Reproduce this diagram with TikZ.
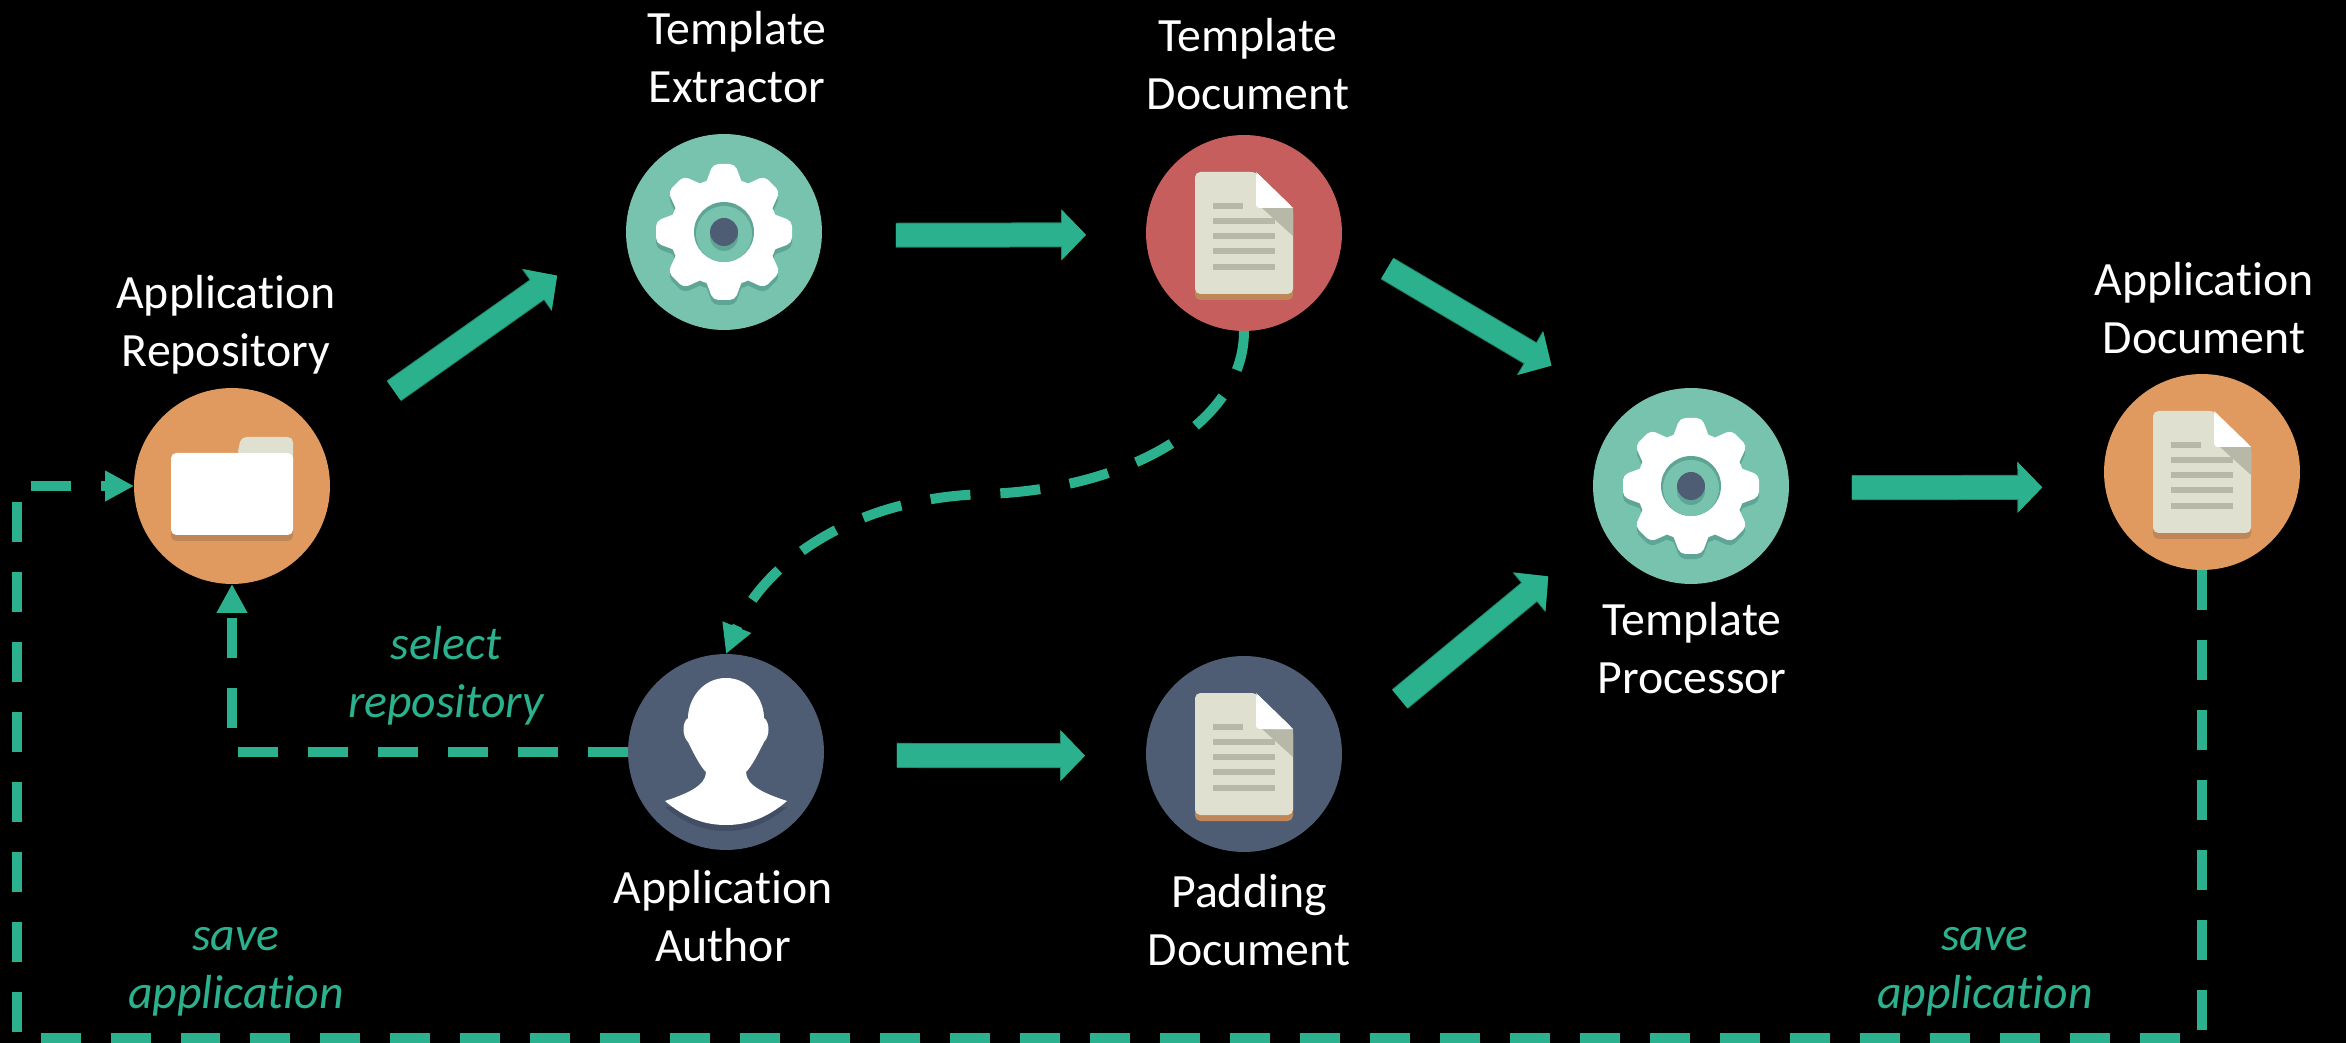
\documentclass[tikz,border=0pt]{standalone}
\usepackage{fontspec}
\setmainfont[Ligatures=NoCommon]{Carlito}
\usetikzlibrary{arrows.meta}
\definecolor{flowgreen}{HTML}{2BB18D}
\definecolor{flowdark}{HTML}{1F8A6E}
\definecolor{huborange}{HTML}{E09A60}
\definecolor{hubgreen}{HTML}{78C3AE}
\definecolor{hubred}{HTML}{C75E5E}
\definecolor{hubnavy}{HTML}{4E5D74}
\definecolor{gearshade}{HTML}{5FA595}
\definecolor{papercream}{HTML}{DFE0CF}
\definecolor{paperline}{HTML}{B8B8A8}
\definecolor{papershade}{HTML}{BF8658}
\definecolor{navyshade}{HTML}{414E63}
\tikzset{
  hub/.style={circle, minimum size=3.92cm, inner sep=0pt, outer sep=0pt},
  hubtext/.style={text=white, align=center, font=\fontsize{27.2}{33}\selectfont},
  flowtext/.style={text=flowgreen, align=center, font=\fontsize{27.2}{33}\selectfont\itshape},
  blockflow/.style={flowgreen, line width=.46cm, -{Triangle[length=.48cm,width=.96cm]},
    preaction={draw=flowdark, line width=.5cm, -{Triangle[length=.5cm,width=1cm]}}},
  dashflow/.style={flowgreen, line width=.2cm, dash pattern=on .8cm off .6cm,
    -{Triangle[length=.58cm,width=.58cm]}},
  gearicon/.pic={
    \begin{scope}[shift={(0,5)}]
      \fill[gearshade] (0,0) circle (54);
      \foreach \a in {0,45,...,315}
        \fill[gearshade, rotate=\a, rounded corners=3pt] (44,-20) -- (68,-11) -- (68,11) -- (44,20) -- cycle;
    \end{scope}
    \fill[white] (0,0) circle (54);
    \foreach \a in {0,45,...,315}
      \fill[white, rotate=\a, rounded corners=3pt] (44,-20) -- (68,-11) -- (68,11) -- (44,20) -- cycle;
    \fill[gearshade] (0,0) circle (30);
    \fill[hubgreen] (0,2) circle (28);
    \fill[gearshade] (0,5) circle (14);
    \fill[hubnavy] (0,0) circle (14);
  },
  docicon/.pic={
    \fill[papershade, rounded corners=3pt] (-49,0) rectangle (49,67);
    \fill[papercream, rounded corners=3pt] (-49,61) -- (-49,-61) -- (12,-61) -- (49,-25) -- (49,61) -- cycle;
    \fill[paperline] (18,-25) -- (49,-25) -- (49,3) -- cycle;
    \fill[white, rounded corners=2pt] (12,-61) -- (12,-25) -- (49,-25) -- cycle;
    \fill[white] (12,-61) -- (49,-25) -- (30,-25) -- cycle;
    \fill[paperline] (-31,-30) rectangle (-1,-24);
    \foreach \y in {-15,0,15,31}
      \fill[paperline] (-31,\y) rectangle (31,\y+6);
  },
  foldericon/.pic={
    \fill[papershade, rounded corners=3pt] (-61,-10) rectangle (61,55);
    \fill[papercream, rounded corners=3pt] (5,-30) -- (9,-49) -- (61,-49) -- (61,-20) -- cycle;
    \fill[white, rounded corners=3pt] (-61,-33) rectangle (61,49);
  },
  personicon/.pic={
    \begin{scope}[shift={(0,6)}]
      \fill[navyshade] (-61,49) .. controls (-40,67) and (-20,73) .. (0,73) .. controls (20,73) and (40,67) .. (61,49) -- cycle;
    \end{scope}
    \fill[white] (0,-74) .. controls (-24,-74) and (-38,-52) .. (-38,-34)
      .. controls (-44,-30) and (-44,-16) .. (-38,-10)
      .. controls (-32,2) and (-26,14) .. (-20,20)
      .. controls (-20,34) and (-40,42) .. (-61,49)
      .. controls (-40,67) and (-20,73) .. (0,73)
      .. controls (20,73) and (40,67) .. (61,49)
      .. controls (40,42) and (20,34) .. (20,20)
      .. controls (26,14) and (32,2) .. (38,-10)
      .. controls (44,-16) and (44,-30) .. (38,-34)
      .. controls (38,-52) and (24,-74) .. (0,-74) -- cycle;
  }
}
\begin{document}
\begin{tikzpicture}[x=.02cm, y=-.02cm]
    \fill[black] (0,0) rectangle (2346,1043);
    \useasboundingbox (0,0) rectangle (2346,1043);

    \node[hub, fill=huborange] (repo) at (232,486) {};
    \node[hub, fill=hubgreen] (extractor) at (724,232) {};
    \node[hub, fill=hubred] (tdoc) at (1244,233) {};
    \node[hub, fill=hubnavy] (author) at (726,752) {};
    \node[hub, fill=hubnavy] (padding) at (1244,754) {};
    \node[hub, fill=hubgreen] (processor) at (1691,486) {};
    \node[hub, fill=huborange] (appdoc) at (2202,472) {};

    \pic at (repo) {foldericon};
    \pic at (extractor) {gearicon};
    \pic at (tdoc) {docicon};
    \pic at (author) {personicon};
    \pic at (padding) {docicon};
    \pic at (processor) {gearicon};
    \pic at (appdoc) {docicon};

    \node[hubtext] (repotext) at (226,325) {Application\\Repository};
    \node[hubtext] (extractortext) at (737,57) {Template\\Extractor};
    \node[hubtext] (tdoctext) at (1248,64) {Template\\Document};
    \node[hubtext] (appdoctext) at (2204,308) {Application\\Document};
    \node[hubtext] (processortext) at (1692,648) {Template\\Processor};
    \node[hubtext] (authortext) at (723,916) {Application\\Author};
    \node[hubtext] (paddingtext) at (1249,920) {Padding\\Document};

    \node[flowtext] (selecttext) at (446,676) {select\\repository};
    \node[flowtext] (savelefttext) at (236,972) {save\\application};
    \node[flowtext] (saverighttext) at (1985,972) {save\\application};

    \draw[blockflow, shorten <=1.81cm, shorten >=1.69cm] (repo.26) -- (extractor.177);
    \draw[blockflow, shorten <=1.48cm, shorten >=1.2cm] (extractor.-2) -- (tdoc.181);
    \draw[blockflow, shorten <=1.06cm, shorten >=1.78cm] (tdoc.-5) -- (processor.130);
    \draw[blockflow, shorten <=1.51cm, shorten >=1.44cm] (padding.4) -- (processor.207);
    \draw[blockflow, shorten <=1.46cm, shorten >=1.22cm] (author.-2) -- (padding.181);
    \draw[blockflow, shorten <=1.26cm, shorten >=1.26cm] (processor.-1) -- (appdoc.189);

    \coordinate (curvemid) at (985,494);
    \coordinate (savecorner) at (17,1038);
    \draw[dashflow] (tdoc.south) .. controls (1244,425) and (1125,490) .. (curvemid)
      .. controls (845,498) and (760,570) .. (author.north);
    \draw[dashflow] (author.west) -| (repo.south);
    \draw[dashflow] (appdoc.south) |- (savecorner) |- (repo.west);
\end{tikzpicture}
\end{document}
